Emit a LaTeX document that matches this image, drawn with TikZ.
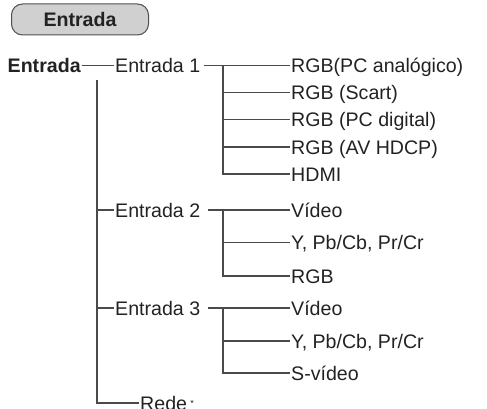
\documentclass[tikz,border=0pt]{standalone}
\usepackage{fontspec}
\setmainfont{Liberation Sans}
\definecolor{txt}{HTML}{222222}
\definecolor{ln}{HTML}{4A4A4A}
\definecolor{boxfill}{HTML}{D0D0D0}
\begin{document}
\begin{tikzpicture}[x=1pt,y=-1pt,
  lbl/.style={anchor=west,inner xsep=1.5pt,inner ysep=0pt,text height=14pt,text depth=0pt,
    font=\fontsize{19.6pt}{22pt}\selectfont,text=txt},
  rootlbl/.style={lbl,font=\fontsize{19.6pt}{22pt}\selectfont\bfseries},
  conn/.style={draw=ln,line width=1.1pt},
  titlebox/.style={draw=txt!80,fill=boxfill,rounded corners=11pt,line width=1pt,
    minimum width=137pt,minimum height=31pt,inner sep=0pt,
    font=\fontsize{19.6pt}{22pt}\selectfont\bfseries,text=txt}]
\useasboundingbox (0,0) rectangle (487,409);
\node[titlebox] (title) at (80,19.5) {Entrada};

\node[rootlbl] (root) at (6,65.5) {Entrada};
\node[lbl] (e1) at (113.5,65.5) {Entrada 1};
\node[lbl] (e2) at (113.5,210) {Entrada 2};
\node[lbl] (e3) at (113.5,308) {Entrada 3};
\node[lbl] (rede) at (138.5,403) {Rede\,\raisebox{4pt}{\fontsize{9pt}{10pt}\selectfont *}};

\node[lbl] (a1) at (289.5,65.5) {RGB(PC analógico)};
\node[lbl] (a2) at (289.5,92.5) {RGB (Scart)};
\node[lbl] (a3) at (289.5,119.5) {RGB (PC digital)};
\node[lbl] (a4) at (289.5,147) {RGB (AV HDCP)};
\node[lbl] (a5) at (289.5,174) {HDMI};

\node[lbl] (b1) at (289.5,210) {Vídeo};
\node[lbl] (b2) at (289.5,242.5) {Y, Pb/Cb, Pr/Cr};
\node[lbl] (b3) at (289.5,276) {RGB};

\node[lbl] (c1) at (289.5,308) {Vídeo};
\node[lbl] (c2) at (289.5,341) {Y, Pb/Cb, Pr/Cr};
\node[lbl] (c3) at (289.5,373) {S-vídeo};

\coordinate (vtop) at (97,80);
\coordinate (k1) at (223,65.5);
\coordinate (k2) at (223,210);
\coordinate (k3) at (223,308);

% main trunk
\draw[conn] (root.east) -- (e1.west);
\draw[conn] (vtop) |- (rede.west);
\draw[conn] (vtop) |- (e2.west);
\draw[conn] (vtop) |- (e3.west);

% Entrada 1
\draw[conn] ([xshift=2pt]e1.east) -- (a1.west);
\draw[conn] (k1) |- (a2.west);
\draw[conn] (k1) |- (a3.west);
\draw[conn] (k1) |- (a4.west);
\draw[conn] (k1) |- (a5.west);

% Entrada 2
\draw[conn] ([xshift=6pt]e2.east) -- (b1.west);
\draw[conn] (k2) |- (b2.west);
\draw[conn] (k2) |- (b3.west);

% Entrada 3
\draw[conn] ([xshift=6pt]e3.east) -- (c1.west);
\draw[conn] (k3) |- (c2.west);
\draw[conn] (k3) |- (c3.west);
\end{tikzpicture}
\end{document}
